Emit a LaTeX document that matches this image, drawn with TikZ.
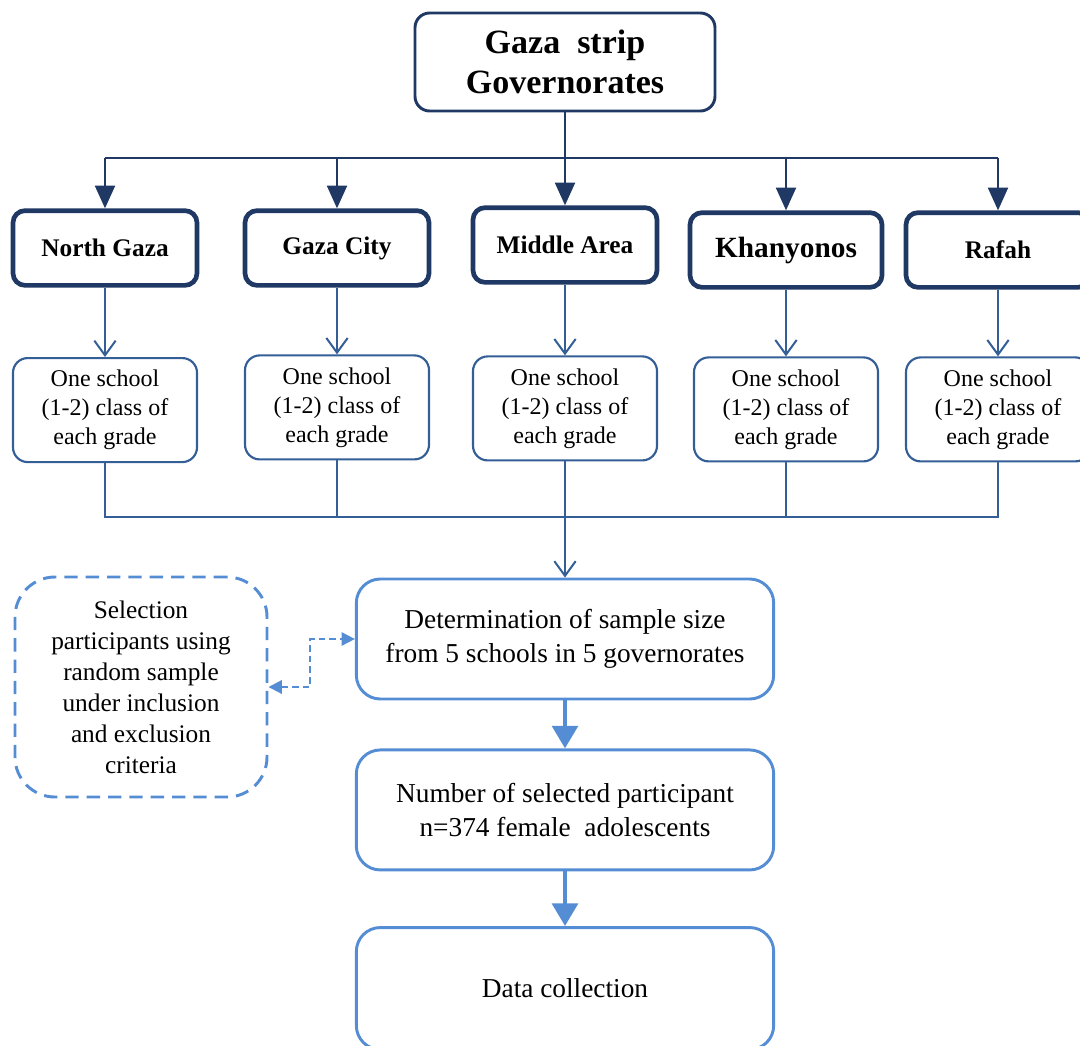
\documentclass[tikz,border=0pt]{standalone}
\usepackage{fontspec}
\setmainfont{Liberation Serif}
\usetikzlibrary{arrows.meta,positioning,calc}
\definecolor{navy}{RGB}{31,56,100}
\definecolor{midblue}{RGB}{52,94,150}
\definecolor{lightblue}{RGB}{84,141,212}

\tikzset{
  gov/.style={draw=navy, line width=3.5pt, rounded corners=9pt,
    minimum width=138pt, minimum height=56pt,
    font=\fontsize{19}{23}\selectfont\bfseries},
  school/.style={draw=midblue, line width=1.6pt, rounded corners=11pt,
    minimum width=138pt, minimum height=78pt, align=center,
    font=\fontsize{18}{21.75}\selectfont},
  stage/.style={draw=lightblue, line width=2.2pt, rounded corners=18pt,
    minimum width=313pt, minimum height=90pt, align=center,
    font=\fontsize{20.5}{25.5}\selectfont},
  govarrow/.style={draw=navy, line width=1.5pt, -{Triangle[length=17pt,width=15pt]}},
  schoolline/.style={draw=midblue, line width=1.5pt},
  schoolarrow/.style={schoolline, -{Straight Barb[length=11pt,width=16pt]}},
  stagearrow/.style={draw=lightblue, line width=3.7pt, -{Triangle[length=17pt,width=19pt]}},
}

\begin{document}
\begin{tikzpicture}[x=0.75pt, y=-0.75pt]
  \useasboundingbox (0,0) rectangle (1080,1045);

  \node[draw=navy, line width=2.2pt, rounded corners=11pt, minimum width=225pt,
    minimum height=73.5pt, align=center,
    font=\fontsize{25.5}{30}\selectfont\bfseries] (top) at (565,62)
    {Gaza\ \ strip\\Governorates};

  \node[gov] (g1) at (105,248) {North Gaza};
  \node[gov] (g2) at (337,248) {Gaza City};
  \node[gov] (g3) at (565,245) {Middle Area};
  \node[gov, minimum width=144pt, font=\fontsize{22}{26}\selectfont\bfseries] (g4) at (786,250) {Khanyonos};
  \node[gov] (g5) at (998,250) {Rafah};

  \node[school, below=52pt of g1] (s1) {One school\\(1-2) class of\\each grade};
  \node[school, below=50pt of g2] (s2) {One school\\(1-2) class of\\each grade};
  \node[school, below=53pt of g3] (s3) {One school\\(1-2) class of\\each grade};
  \node[school, below=50pt of g4] (s4) {One school\\(1-2) class of\\each grade};
  \node[school, below=50pt of g5] (s5) {One school\\(1-2) class of\\each grade};

  \node[stage] (det) at (565,639) {Determination of sample size\\from 5 schools in 5 governorates};
  \node[stage, below=36pt of det] (num) {Number of selected participant\\n=374 female\ \ adolescents};
  \node[stage, below=41pt of num, minimum height=91.5pt] (data) {Data collection};

  \node[draw=lightblue, line width=2.2pt, dash pattern=on 10pt off 6pt,
    rounded corners=30pt, minimum width=189pt, minimum height=165pt, align=center,
    font=\fontsize{19}{23.25}\selectfont] (sel) at (141,687)
    {Selection\\participants using\\random sample\\under inclusion\\and exclusion\\criteria};

  \coordinate (bus) at (565,158);
  \coordinate (jn) at (565,517);

  \draw[navy, line width=1.5pt] (g1.north |- bus) -- (g5.north |- bus);
  \draw[govarrow] (top.south) -- (g3.north);
  \draw[govarrow] (g1.north |- bus) -- (g1.north);
  \draw[govarrow] (g2.north |- bus) -- (g2.north);
  \draw[govarrow] (g4.north |- bus) -- (g4.north);
  \draw[govarrow] (g5.north |- bus) -- (g5.north);

  \draw[schoolarrow] (g1) -- (s1);
  \draw[schoolarrow] (g2) -- (s2);
  \draw[schoolarrow] (g3) -- (s3);
  \draw[schoolarrow] (g4) -- (s4);
  \draw[schoolarrow] (g5) -- (s5);

  \draw[schoolline] (s1.south) |- (s5.south |- jn) -- (s5.south);
  \draw[schoolline] (s2.south) -- (s2.south |- jn);
  \draw[schoolline] (s3.south) -- (jn);
  \draw[schoolline] (s4.south) -- (s4.south |- jn);
  \draw[schoolarrow] (jn) -- (det.north);

  \draw[stagearrow] (det) -- (num);
  \draw[stagearrow] (num) -- (data);

  \draw[lightblue, line width=1.5pt, dash pattern=on 5pt off 3pt,
    {Triangle[length=10pt,width=10pt]}-{Triangle[length=10pt,width=10pt]}]
    (sel.east) -| ($(det.west)+(-45,0)$) -- (det.west);
\end{tikzpicture}
\end{document}
